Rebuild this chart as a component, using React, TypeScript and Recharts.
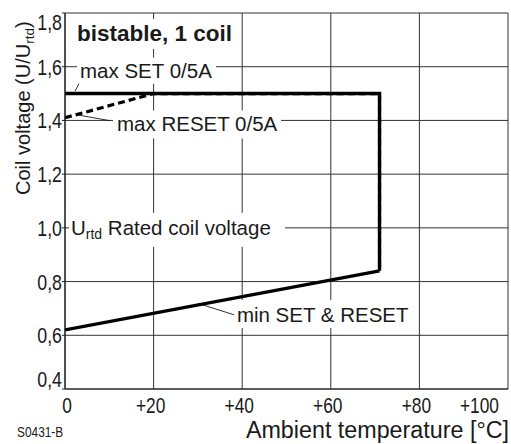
import React from 'react';
import { LineChart, Line, XAxis, YAxis, CartesianGrid, ReferenceDot, ReferenceLine } from 'recharts';

// ---- data ----
const xTicks = [0, 20, 40, 60, 80, 100];
const xTickLabels = ['0', '+20', '+40', '+60', '+80', '+100'];
const yTicks = [0.4, 0.6, 0.8, 1.0, 1.2, 1.4, 1.6, 1.8];
const yTickLabels = ['0,4', '0,6', '0,8', '1,0', '1,2', '1,4', '1,6', '1,8'];

const maxSetT = [0, 71, 71];
const maxSetV = [1.5, 1.5, 0.84];
const maxResetT = [0, 20, 71, 71];
const maxResetV = [1.41, 1.5, 1.5, 0.84];
const minT = [0, 71];
const minV = [0.62, 0.84];

const maxSet = maxSetT.map((t, i) => ({ t, v: maxSetV[i] }));
const maxReset = maxResetT.map((t, i) => ({ t, v: maxResetV[i] }));
const minSetReset = minT.map((t, i) => ({ t, v: minV[i] }));

const SANS = '"Liberation Sans", Arial, Helvetica, sans-serif';
const INK = '#1a1a1a';
const SQUEEZE = 0.79;

const YTick = (props: any) => {
  const { x, y, payload } = props;
  const idx = yTicks.indexOf(payload.value);
  let dy = 8;
  if (payload.value === 1.8) dy = 17;
  if (payload.value === 0.4) dy = -2;
  return (
    <text transform={`translate(${x},${y + dy}) scale(${SQUEEZE},1)`} x={0} y={0} textAnchor="end"
      fontFamily={SANS} fontSize={22.5} fill={INK}>
      {yTickLabels[idx]}
    </text>
  );
};

const XTick = (props: any) => {
  const { x, y, payload } = props;
  const idx = xTicks.indexOf(payload.value);
  let anchor: any = 'middle';
  let dx = -3;
  if (payload.value === 0) dx = 2;
  if (payload.value === 100) { anchor = 'end'; dx = 0; }
  return (
    <text transform={`translate(${x + dx},${y + 24}) scale(${SQUEEZE - 0.02},1)`} x={0} y={0} textAnchor={anchor}
      fontFamily={SANS} fontSize={22.5} fill={INK}>
      {xTickLabels[idx]}
    </text>
  );
};

const boxLabel = (content: React.ReactNode, box: [number, number, number, number], base: number, opts: any = {}) =>
  (p: any) => {
    const { cx, cy } = p;
    return (
      <g>
        <rect x={cx + box[0]} y={cy + box[1]} width={box[2]} height={box[3]} fill="#fff" />
        <text x={cx + (opts.dx || 0)} y={cy + base} fontFamily={SANS} fontSize={opts.fontSize || 20.5}
          fontWeight={opts.bold ? 'bold' : 'normal'} fill={INK}>
          {content}
        </text>
      </g>
    );
  };

const YTitle = (p: any) => {
  const bx = 30;
  const by = 195;
  return (
    <text transform={`translate(${bx},${by}) rotate(-90)`} x={0} y={0} fontFamily={SANS} fontSize={20} fill={INK}>
      Coil voltage (U/U<tspan fontSize={13.5} dy={4}>rtd</tspan><tspan dy={-4}>)</tspan>
    </text>
  );
};

const XTitle = (p: any) => (
  <text x={509} y={438} textAnchor="end" fontFamily={SANS} fontSize={23.3} fill={INK}>
    Ambient temperature [°C]
  </text>
);

export default function App() {
  return (
    <div style={{ position: 'absolute', left: 0, top: 0, width: 511, height: 444, background: '#fff' }}>
      <LineChart width={511} height={444} margin={{ top: 13, right: 3, left: 0, bottom: 0 }}>
        <CartesianGrid stroke="#333" strokeWidth={1} />
        <XAxis dataKey="t" type="number" domain={[0, 100]} ticks={xTicks} tick={<XTick />}
          tickLine={false} tickSize={0} tickMargin={0} height={55} axisLine={{ stroke: '#222', strokeWidth: 1.2 }}
          label={{ content: <XTitle /> }} allowDataOverflow />
        <YAxis dataKey="v" type="number" domain={[0.4, 1.8]} ticks={yTicks} tick={<YTick />}
          tickLine={{ stroke: '#222' }} tickSize={3} tickMargin={0} width={65}
          axisLine={{ stroke: '#222', strokeWidth: 1.2 }} label={{ content: <YTitle /> }} allowDataOverflow />

        <ReferenceDot x={0} y={1.8} r={0}
          shape={boxLabel('bistable, 1 coil', [7, 6, 168, 30], 27.5, { bold: true, fontSize: 22.5, dx: 12 })}
          ifOverflow="visible" />
        <ReferenceDot x={3.39} y={1.6} r={0} shape={boxLabel('max SET 0/5A', [-3, -9, 139, 26], 11.3)} />
        <ReferenceDot x={11.74} y={1.4} r={0} shape={boxLabel('max RESET 0/5A', [-4, -10, 168, 28], 10.7)} />
        <ReferenceDot x={1.35} y={1.0} r={0}
          shape={boxLabel(<>U<tspan fontSize={14} dy={4}>rtd</tspan><tspan dy={-4}> Rated coil voltage</tspan></>, [-2, -15, 216, 34], 7)} />
        <ReferenceDot x={38.8} y={0.683} r={0} shape={boxLabel('min SET & RESET', [-3, -13, 177, 28], 8.7)} />

        <ReferenceLine segment={[{ x: 3.39, y: 1.544 }, { x: 2.26, y: 1.509 }]} stroke={INK} strokeWidth={0.9} />
        <ReferenceLine segment={[{ x: 3.0, y: 1.42 }, { x: 10.2, y: 1.399 }]} stroke={INK} strokeWidth={0.9} />
        <ReferenceLine segment={[{ x: 30.0, y: 0.719 }, { x: 38.4, y: 0.675 }]} stroke={INK} strokeWidth={0.9} />

        <Line data={maxSet} dataKey="v" type="linear" stroke="#000" strokeWidth={3.4} dot={false} isAnimationActive={false} />
        <Line data={minSetReset} dataKey="v" type="linear" stroke="#000" strokeWidth={3.4} dot={false} isAnimationActive={false} />
        <Line data={maxReset} dataKey="v" type="linear" stroke="#000" strokeWidth={3.2} strokeDasharray="7 4" dot={false} isAnimationActive={false} />

        <text transform={`translate(17,437) scale(0.82,1)`} x={0} y={0} fontFamily={SANS} fontSize={14.5} fill={INK}>S0431-B</text>
      </LineChart>
    </div>
  );
}
